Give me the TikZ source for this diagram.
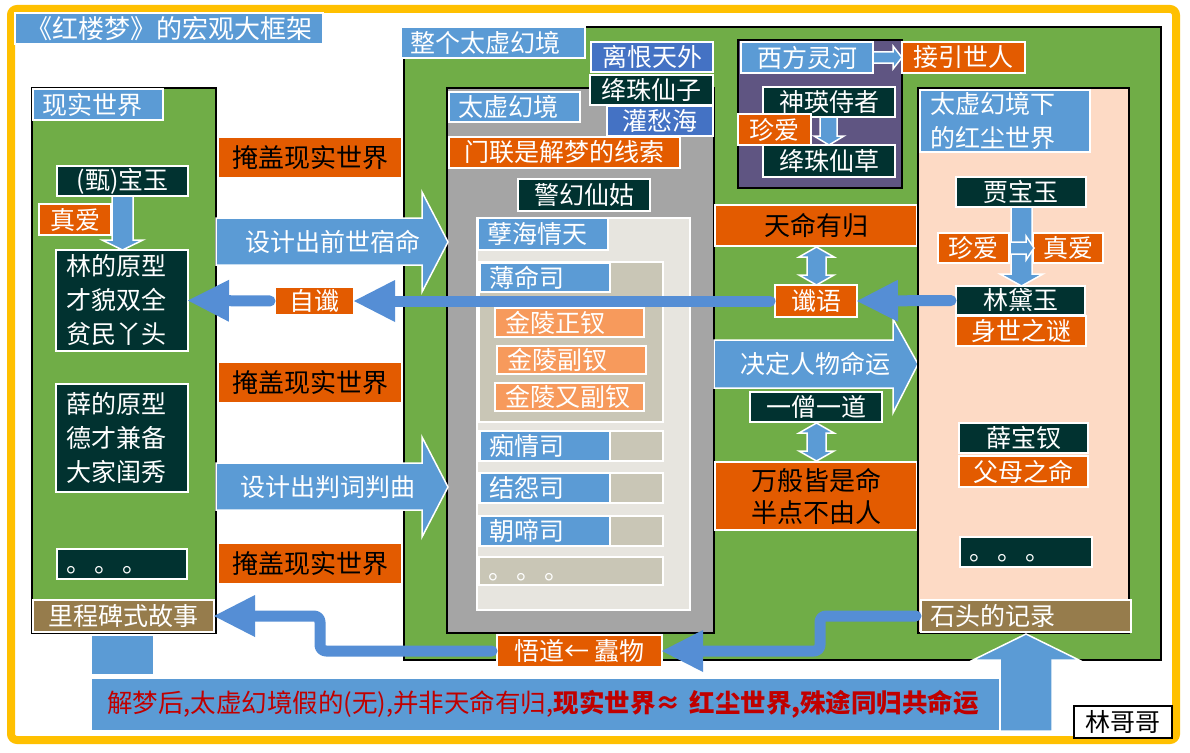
\documentclass[tikz,border=0pt]{standalone}
\usepackage{fontspec}
\setmainfont{Noto Sans CJK SC}
\usetikzlibrary{arrows.meta}
\definecolor{ylw}{HTML}{FFC000}
\definecolor{grn}{HTML}{70AD47}
\definecolor{bl}{HTML}{5B9BD5}
\definecolor{dbl}{HTML}{4472C4}
\definecolor{dk}{HTML}{013230}
\definecolor{org}{HTML}{E35B00}
\definecolor{lorg}{HTML}{F79A5C}
\definecolor{gry}{HTML}{A5A5A5}
\definecolor{lgr}{HTML}{E7E5DF}
\definecolor{kh}{HTML}{C9C6B6}
\definecolor{pur}{HTML}{5F5582}
\definecolor{pnk}{HTML}{FDDAC5}
\definecolor{brn}{HTML}{967C4C}
\definecolor{dred}{HTML}{C00000}
\definecolor{ln}{HTML}{558ED5}
\begin{document}
\begin{tikzpicture}[x=1pt,y=-1pt,
 bx/.style={draw=white, line width=1.3pt, anchor=north west, inner sep=0pt, outer sep=0pt, text=white, font=\fontsize{25}{34}\selectfont},
 sz/.style 2 args={minimum width=#1pt, minimum height=#2pt},
 lft/.style={align=left, inner xsep=9pt, text width=#1pt},
 pnl/.style={draw=black, line width=2pt, anchor=north west, inner sep=0pt, outer sep=0pt},
 blk/.style={font=\fontsize{26}{32}\selectfont, text=black},
 barrow/.style={fill=bl, draw=white, line width=1.5pt},
 conn/.style={draw=ln, line width=11pt, line cap=round, line join=round, shorten <=5pt},
 tip/.style={-{Triangle[length=41pt,width=42pt,line width=0pt]}},
]
\useasboundingbox (0,0) rectangle (1190,752);
\fill[white] (0,0) rectangle (1190,752);
\draw[ylw, line width=8pt, rounded corners=6pt] (11,9) rectangle (1176,740);

% title
\node[bx, fill=bl, sz={308}{31}, font=\fontsize{26}{34}\selectfont] (title) at (15,13) {《红楼梦》的宏观大框架};

% left panel: real world
\node[pnl, fill=grn, sz={184}{545}] (realp) at (32,88) {};
\node[bx, fill=bl, sz={130}{31}, lft=112] (reall) at (33,89) {现实世界};
\node[bx, fill=dk, sz={131}{30}] (bao) at (57,166) {(甄)宝玉};
\node[bx, fill=org, sz={72}{31}] (zhen1) at (39,204) {真爱};
\node[bx, fill=dk, sz={132}{101}, lft=112, inner xsep=10pt] (lin) at (56,250) {林的原型\\才貌双全\\贫民丫头};
\node[bx, fill=dk, sz={132}{108}, lft=112, inner xsep=10pt] (xue) at (56,384) {薛的原型\\德才兼备\\大家闺秀};
\node[bx, fill=dk, sz={130}{30}, lft=112] (dots1) at (57,549) {\vphantom{国}。\hspace{3pt}。\hspace{3pt}。};
\node[bx, fill=brn, sz={181}{32}] (mile) at (33,600) {里程碑式故事};
\path[barrow] (112,196) -- (133,196) -- (133,240) -- (143,240) -- (122.5,250) -- (102,240) -- (112,240) -- cycle;

% cover boxes
\node[bx, fill=org, sz={184}{41}, blk] (cover1) at (218,137) {掩盖现实世界};
\node[bx, fill=org, sz={184}{41}, blk] (cover2) at (218,362) {掩盖现实世界};
\node[bx, fill=org, sz={184}{41}, blk] (cover3) at (218,543) {掩盖现实世界};

% big panel
\node[pnl, fill=grn, sz={757}{633}] (whole) at (404,27) {};
\node[bx, fill=bl, sz={184}{31}, lft=166] (wholel) at (401,27) {整个太虚幻境};

% grey panel
\node[pnl, fill=gry, sz={267}{545}] (tx) at (447,88) {};
\node[bx, fill=bl, sz={131}{30}, lft=113] (txl) at (449,92) {太虚幻境};
\node[bx, fill=org, sz={231}{31}] (menlian) at (449,137) {门联是解梦的线索};
\node[bx, fill=dk, sz={132}{32}] (jinghuan) at (518,179) {警幻仙姑};
\node[bx, fill=lgr, sz={213}{392}] (light) at (477,218) {};
\node[bx, fill=bl, sz={130}{32}, lft=112] (niehai) at (478,218) {孽海情天};
\node[bx, fill=kh, sz={184}{160}] (bmk) at (479,262) {};
\node[bx, fill=bl, sz={130}{29}, lft=112] (bm) at (480,263) {薄命司};
\node[bx, fill=lorg, sz={149}{29}, lft=129, inner xsep=10pt] (jl1) at (495,308) {金陵正钗};
\node[bx, fill=lorg, sz={149}{28}, lft=129, inner xsep=10pt] (jl2) at (497,346) {金陵副钗};
\node[bx, fill=lorg, sz={149}{28}, lft=129, inner xsep=10pt] (jl3) at (495,383) {金陵又副钗};
\node[bx, fill=kh, sz={184}{30}] (cqk) at (479,431) {};
\node[bx, fill=bl, sz={130}{30}, lft=112] (cq) at (480,431) {痴情司};
\node[bx, fill=kh, sz={184}{30}] (jyk) at (479,473) {};
\node[bx, fill=bl, sz={130}{30}, lft=112] (jy) at (480,473) {结怨司};
\node[bx, fill=kh, sz={184}{30}] (ctk) at (479,516) {};
\node[bx, fill=bl, sz={130}{30}, lft=112] (ct) at (480,516) {朝啼司};
\node[bx, fill=kh, sz={184}{28}, lft=166] (dots2) at (479,557) {\vphantom{国}。\hspace{3pt}。\hspace{3pt}。};

% heaven labels (over grey panel)
\node[bx, fill=dbl, sz={122}{30}] (lihen) at (591,42) {离恨天外};
\node[bx, fill=dk, sz={123}{30}] (jzxz) at (590,75) {绛珠仙子};
\node[bx, fill=dbl, sz={106}{30}] (guanchou) at (607,106) {灌愁海};

% purple panel
\node[pnl, fill=pur, sz={164}{148}] (west) at (738,40) {};
\node[bx, fill=bl, sz={132}{31}] (westl) at (741,42) {西方灵河};
\node[bx, fill=org, sz={123}{31}] (jieyin) at (902,42) {接引世人};
\path[barrow] (873,52) -- (893,52) -- (893,46) -- (902,57.5) -- (893,69) -- (893,63) -- (873,63) -- cycle;
\node[bx, fill=dk, sz={132}{30}] (shenying) at (763,87) {神瑛侍者};
\node[bx, fill=dk, sz={132}{32}] (jzxc) at (763,145) {绛珠仙草};
\path[barrow] (820,117) -- (837,117) -- (837,136) -- (844,136) -- (829,145) -- (814,136) -- (820,136) -- cycle;
\node[bx, fill=org, sz={73}{31}] (zhen2) at (738,114) {珍爱};

% middle column
\node[bx, fill=org, sz={202}{41}, blk] (tianming) at (715,205) {天命有归};
\node[bx, fill=org, sz={82}{32}] (chen) at (775,285) {谶语};
\path[barrow] (816.5,247) -- (834,257) -- (826,257) -- (826,275) -- (834,275) -- (816.5,285) -- (799,275) -- (807,275) -- (807,257) -- (799,257) -- cycle;
\path[barrow] (714,340) -- (893,340) -- (893,319) -- (918,364) -- (893,413) -- (893,388) -- (714,388) -- cycle;
\node[text=white, font=\fontsize{25}{30}\selectfont] (jueding) at (815,364) {决定人物命运};
\node[bx, fill=dk, sz={132}{30}] (yiseng) at (750,392) {一僧一道};
\path[barrow] (816.5,423) -- (834,433) -- (826,433) -- (826,451) -- (834,451) -- (816.5,461) -- (799,451) -- (807,451) -- (807,433) -- (799,433) -- cycle;
\node[bx, fill=org, sz={202}{68}, blk, align=center] (wanban) at (715,462) {万般皆是命\\半点不由人};

% pink panel
\node[pnl, fill=pnk, sz={211}{545}] (hc) at (918,88) {};
\node[bx, fill=bl, sz={170}{62}, lft=150, inner xsep=10pt] (hcl) at (920,90) {太虚幻境下\\的红尘世界};
\node[bx, fill=dk, sz={130}{30}] (jia) at (956,177) {贾宝玉};
\path[barrow] (1011,207) -- (1032,207) -- (1032,274) -- (1043,274) -- (1021.5,286) -- (1000,274) -- (1011,274) -- cycle;
\node[bx, fill=org, sz={71}{30}] (zhen3) at (938,233) {珍爱};
\node[bx, fill=org, sz={70}{30}] (zhen4) at (1033,233) {真爱};
\path[barrow] (1010,242) -- (1026,242) -- (1026,236) -- (1034,248) -- (1026,260) -- (1026,254) -- (1010,254) -- cycle;
\node[bx, fill=dk, sz={129}{29}] (daiyu) at (956,286) {林黛玉};
\node[bx, fill=org, sz={130}{30}] (shenshi) at (956,316) {身世之谜};
\node[bx, fill=dk, sz={129}{30}] (baochai) at (959,423) {薛宝钗};
\node[bx, fill=org, sz={129}{31}] (fumu) at (959,456) {父母之命};
\node[bx, fill=dk, sz={132}{30}, lft=114] (dots3) at (960,537) {\vphantom{国}。\hspace{3pt}。\hspace{3pt}。};
\node[bx, fill=brn, sz={210}{32}, lft=192] (stone) at (921,600) {石头的记录};

% orange bottom label
\node[bx, fill=org, sz={165}{32}] (wudao) at (497,635) {悟道← 蠹物};

% block arrows between panels
\path[barrow] (216,218) -- (422,218) -- (422,192) -- (448,242) -- (422,292) -- (422,265) -- (216,265) -- cycle;
\node[text=white, font=\fontsize{25}{30}\selectfont] (sheji1) at (333,242) {设计出前世宿命};
\path[barrow] (216,463) -- (422,463) -- (422,437) -- (448,487) -- (422,537) -- (422,510) -- (216,510) -- cycle;
\node[text=white, font=\fontsize{25}{30}\selectfont] (sheji2) at (328,487) {设计出判词判曲};

% self-prophecy box
\node[bx, fill=org, sz={79}{28}] (zij) at (275,287) {自谶};

% connectors
\draw[conn, tip] (daiyu.west) -- (chen.east);
\draw[conn, tip] (chen.west) -- (zij.east);
\draw[conn, tip] (zij.west) -- (lin.east);
\draw[conn, tip, rounded corners=6pt] (stone.west) -- ++(-101,0) |- (wudao.east);
\draw[conn, tip, rounded corners=6pt] (wudao.west) -- ++(-177,0) |- (mile.east);

% bottom
\node[bx, fill=bl, sz={63}{40}] (stub) at (91,635) {};
\node[bx, fill=bl, sz={909}{53}, lft=877, inner xsep=16pt, text=dred, font=\fontsize{25.5}{34}\selectfont] (bar) at (91,678) {\makebox[877pt][l]{解梦后,太虚幻境假的(无),并非天命有归,\textbf{现实世界≈ 红尘世界,殊途同归共命运}}};
\path[barrow] (1000,731) -- (1000,660) -- (973,660) -- (1026,634) -- (1079,660) -- (1052,660) -- (1052,731) -- cycle;
\node[bx, draw=black, fill=white, text=black, sz={98}{32}] (lgg) at (1074,706) {林哥哥};
\end{tikzpicture}
\end{document}
